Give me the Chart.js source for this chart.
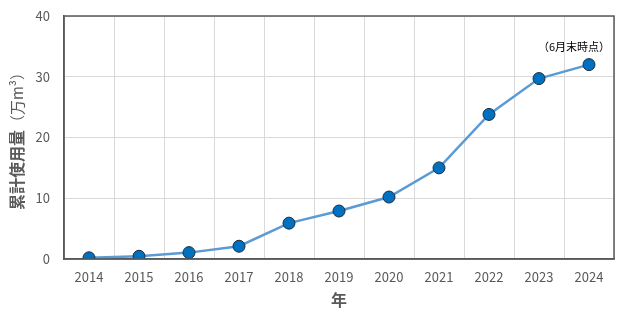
<!DOCTYPE html>
<html>
<head>
<meta charset="utf-8">
<script src="https://cdn.jsdelivr.net/npm/chart.js@4"></script>
<style>
  html, body { margin: 0; padding: 0; background: #fff; }
  #wrap { width: 630px; height: 320px; }
</style>
</head>
<body>
<div id="wrap"><canvas id="usageChart" width="630" height="320"></canvas></div>
<script>
const years = ['2014', '2015', '2016', '2017', '2018', '2019', '2020', '2021', '2022', '2023', '2024'];
const usage = [0.2, 0.45, 1.05, 2.1, 5.9, 7.9, 10.2, 15.0, 23.8, 29.7, 32.0];
const yTicks = [0, 10, 20, 30, 40];
const noteText = '（6月末時点）';

const jpFont = '"Noto Sans CJK JP", "Noto Sans", sans-serif';

// frame, y axis title and the note above the last point
const extras = {
  id: 'extras',
  afterDraw(chart) {
    const { ctx, chartArea: a } = chart;
    ctx.save();
    ctx.strokeStyle = '#595959';
    ctx.lineWidth = 1.5;
    ctx.strokeRect(a.left, a.top, a.right - a.left, a.bottom - a.top);

    // y title: bold part + lighter unit part
    ctx.translate(17, (a.top + a.bottom) / 2);
    ctx.rotate(-Math.PI / 2);
    ctx.textBaseline = 'middle';
    ctx.fillStyle = '#595959';
    const boldPart = '累計使用量';
    const unitPart = '（万m³）';
    ctx.font = 'bold 16px ' + jpFont;
    const w1 = ctx.measureText(boldPart).width;
    ctx.font = '15px ' + jpFont;
    const w2 = ctx.measureText(unitPart).width;
    let x = -(w1 + w2) / 2;
    ctx.font = 'bold 16px ' + jpFont;
    ctx.textAlign = 'left';
    ctx.fillText(boldPart, x, 0);
    ctx.font = '15px ' + jpFont;
    ctx.fillText(unitPart, x + w1, 0);
    ctx.restore();

    const meta = chart.getDatasetMeta(0);
    const last = meta.data[meta.data.length - 1];
    ctx.save();
    ctx.font = '11px ' + jpFont;
    ctx.fillStyle = '#000';
    ctx.textAlign = 'center';
    ctx.textBaseline = 'middle';
    ctx.fillText(noteText, last.x - 15, last.y - 18);
    ctx.restore();
  }
};

const ctx = document.getElementById('usageChart').getContext('2d');
const usageChart = new Chart(ctx, {
  type: 'line',
  data: {
    labels: years,
    datasets: [{
      data: usage,
      borderColor: '#5b9bd5',
      borderWidth: 2.5,
      backgroundColor: '#0070c0',
      pointBackgroundColor: '#0070c0',
      pointBorderColor: '#1f2d3d',
      pointBorderWidth: 1,
      pointRadius: 6,
      tension: 0
    }]
  },
  options: {
    responsive: false,
    animation: false,
    layout: { padding: { top: 16, right: 16, left: 0, bottom: 6 } },
    plugins: {
      legend: { display: false },
      tooltip: { enabled: false }
    },
    scales: {
      x: {
        offset: true,
        grid: { offset: true, color: '#d9d9d9', drawTicks: false },
        border: { color: '#595959', width: 1.5 },
        ticks: { color: '#595959', font: { size: 13, family: jpFont }, padding: 10 },
        title: {
          display: true,
          text: '年',
          color: '#595959',
          font: { size: 16, weight: 'bold', family: jpFont },
          padding: { top: 0 }
        },
        afterFit(scale) { scale.height = 55; }
      },
      y: {
        min: 0,
        max: 40,
        afterBuildTicks(scale) { scale.ticks = yTicks.map(v => ({ value: v })); },
        grid: { color: '#d9d9d9', drawTicks: false },
        border: { color: '#595959', width: 1.5 },
        ticks: { color: '#595959', font: { size: 13, family: jpFont }, padding: 14 },
        afterFit(scale) {
          scale.width = 64;
          scale.paddingTop = 0;
          scale.paddingBottom = 0;
        }
      }
    }
  },
  plugins: [extras]
});
</script>
</body>
</html>
